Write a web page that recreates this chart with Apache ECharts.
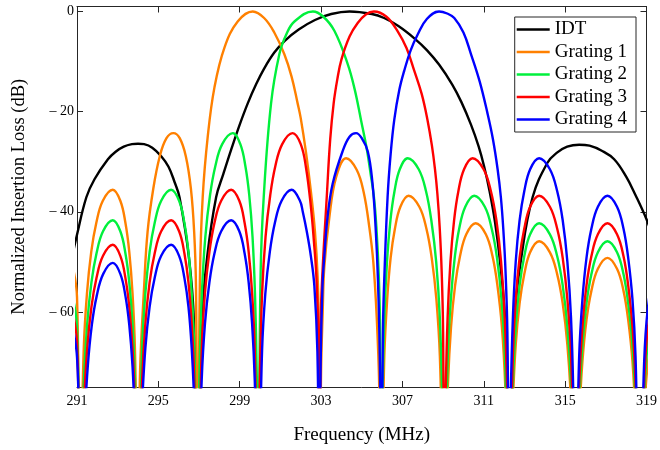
<!DOCTYPE html>
<html>
<head>
<meta charset="utf-8">
<script src="https://cdn.jsdelivr.net/npm/echarts@6/dist/echarts.min.js"></script>
<style>
html,body{margin:0;padding:0;background:#fff;}
#chart{width:660px;height:450px;}
</style>
</head>
<body>
<div id="chart"></div>
<script>
// Tick values
const freqTicks = [291, 295, 299, 303, 307, 311, 315, 319];
const lossTicks = [0, -20, -40, -60];

// Series names and colours
const seriesNames = ['IDT', 'Grating 1', 'Grating 2', 'Grating 3', 'Grating 4'];
const seriesColors = ['#000000', '#ff8000', '#00f03c', '#ff0000', '#0000ff'];

// [frequency MHz, normalized insertion loss dB]
const idt = [[290.6,-52],[291.0,-44.6],[291.46,-37.1],[291.86,-33.5],[292.52,-29.5],[292.9,-28.0],[293.3,-27.0],[293.7,-26.5],[294.0,-26.4],[294.3,-26.5],[294.7,-27.2],[295.14,-28.9],[295.5,-31.0],[295.8,-34.1],[296.04,-37.1],[296.5,-49],[296.75,-62],[296.94,-100],[297.15,-61],[297.4,-49],[297.84,-37.1],[298.2,-32.4],[298.58,-27.6],[299.0,-22.6],[299.4,-18.3],[299.8,-14.6],[300.2,-11.4],[300.7,-8.2],[301.2,-5.9],[301.9,-3.6],[302.7,-1.7],[303.5,-0.5],[304.4,0],[305.5,-0.5],[306.1,-1.3],[306.8,-2.9],[307.6,-5.4],[308.2,-7.7],[308.8,-10.6],[309.45,-14.6],[309.9,-18.1],[310.37,-22.6],[310.75,-27.0],[311.02,-31.0],[311.27,-35.6],[311.55,-42],[311.8,-50],[312.05,-62],[312.3,-100],[312.5,-62],[312.85,-49],[313.4,-37.1],[314.13,-30.2],[314.6,-28.2],[315.1,-27.0],[315.69,-26.6],[316.2,-26.8],[316.8,-27.8],[317.41,-29.5],[318.0,-33],[318.45,-36.6],[319.0,-41.5],[319.4,-46]];

const grating1 = [[290.6,-48],[291.0,-57],[291.13,-100],
[291.33,-67.6],[291.49,-56.3],[291.70,-48.0],[291.95,-42.2],[292.27,-37.8],[292.76,-35.6],[293.13,-37.8],[293.38,-42.2],[293.57,-48.0],[293.73,-56.3],[293.85,-67.6],[294.0,-100],
[294.1,-72],[294.3,-55],[294.47,-44],[294.75,-35.4],[295.07,-28.9],[295.4,-25.3],[295.74,-24.3],[296.05,-25.3],[296.35,-28.9],[296.6,-35.4],[296.76,-44],[296.85,-55],[296.93,-100],
[297.05,-52],[297.18,-37.1],[297.43,-24.9],[297.76,-15.1],[298.25,-7.2],[298.9,-2.0],[299.64,0],[300.2,-1.3],[300.7,-4.2],[301.19,-8.5],[301.55,-13],[301.85,-18.4],[302.0,-21.3],[302.26,-28.2],[302.5,-36],[302.7,-44],[302.83,-53],[302.88,-62],[302.93,-100],
[303.0,-72],[303.08,-60],[303.16,-51],[303.41,-41],[303.74,-33.1],[304.23,-29.3],[304.75,-31.6],[305.09,-36],[305.37,-43],[305.57,-50.1],[305.74,-61.4],[305.86,-75],[305.95,-100],
[306.11,-68.8],[306.25,-57.5],[306.42,-49.2],[306.63,-43.4],[306.9,-39.0],[307.3,-36.8],[307.83,-39.0],[308.18,-43.4],[308.44,-49.2],[308.67,-57.5],[308.84,-68.8],[309.05,-100],
[309.24,-74.3],[309.39,-63.0],[309.59,-54.7],[309.83,-48.9],[310.14,-44.5],[310.6,-42.3],[311.1,-44.5],[311.43,-48.9],[311.67,-54.7],[311.89,-63.0],[312.05,-74.3],[312.25,-100],
[312.43,-77.9],[312.57,-66.6],[312.76,-58.3],[312.99,-52.5],[313.28,-48.1],[313.72,-45.9],[314.25,-48.1],[314.61,-52.5],[314.88,-58.3],[315.11,-66.6],[315.29,-77.9],[315.5,-100],
[315.69,-81.2],[315.85,-69.9],[316.05,-61.6],[316.29,-55.8],[316.61,-51.4],[317.08,-49.2],[317.55,-51.4],[317.87,-55.8],[318.1,-61.6],[318.31,-69.9],[318.46,-81.2],[318.65,-100],
[318.82,-88],[319.0,-73],[319.4,-61]];

const grating2 = [[290.6,-54],[291.0,-63],[291.15,-100],
[291.34,-73.7],[291.50,-62.4],[291.71,-54.1],[291.96,-48.3],[292.28,-43.9],[292.76,-41.7],[293.13,-43.9],[293.38,-48.3],[293.57,-54.1],[293.73,-62.4],[293.85,-73.7],[294.0,-100],
[294.20,-67.6],[294.36,-56.3],[294.57,-48.0],[294.82,-42.2],[295.14,-37.8],[295.63,-35.6],[296.02,-37.8],[296.28,-42.2],[296.48,-48.0],[296.64,-56.3],[296.77,-67.6],[296.93,-100],
[297.02,-72.9],[297.14,-56.3],[297.31,-45.0],[297.54,-36.7],[297.80,-30.9],[298.14,-26.5],[298.66,-24.3],[299.03,-26.5],[299.28,-30.9],[299.47,-36.7],[299.63,-45.0],[299.75,-56.3],[299.84,-72.9],[299.9,-100],
[300.03,-52],[300.18,-37.1],[300.54,-18.4],[300.95,-8.5],[301.3,-4.5],[301.69,-2.0],[302.6,0],[303.1,-1.0],[303.66,-3.9],[304.31,-10.5],[304.65,-15.5],[304.96,-21.6],[305.25,-27.5],[305.45,-32.8],[305.6,-37.1],[305.72,-43],[305.84,-53],[305.91,-65],[305.95,-100],
[306.02,-77.9],[306.11,-61.3],[306.24,-50.0],[306.41,-41.7],[306.61,-35.9],[306.87,-31.5],[307.26,-29.3],[307.80,-31.5],[308.16,-35.9],[308.42,-41.7],[308.66,-50.0],[308.84,-61.3],[308.96,-77.9],[309.05,-100],
[309.23,-68.8],[309.38,-57.5],[309.57,-49.2],[309.79,-43.4],[310.09,-39.0],[310.53,-36.8],[311.05,-39.0],[311.39,-43.4],[311.65,-49.2],[311.87,-57.5],[312.04,-68.8],[312.25,-100],
[312.43,-74.3],[312.57,-63.0],[312.76,-54.7],[312.99,-48.9],[313.28,-44.5],[313.72,-42.3],[314.25,-44.5],[314.61,-48.9],[314.88,-54.7],[315.11,-63.0],[315.29,-74.3],[315.5,-100],
[315.69,-77.9],[315.85,-66.6],[316.05,-58.3],[316.29,-52.5],[316.61,-48.1],[317.08,-45.9],[317.55,-48.1],[317.87,-52.5],[318.1,-58.3],[318.31,-66.6],[318.46,-77.9],[318.65,-100],
[318.82,-85],[319.0,-69],[319.4,-57]];

const grating3 = [[290.6,-57],[291.0,-66],[291.15,-100],
[291.34,-78.6],[291.50,-67.3],[291.71,-59.0],[291.96,-53.2],[292.28,-48.8],[292.76,-46.6],[293.13,-48.8],[293.38,-53.2],[293.57,-59.0],[293.73,-67.3],[293.85,-78.6],[294.0,-100],
[294.20,-73.7],[294.36,-62.4],[294.57,-54.1],[294.82,-48.3],[295.14,-43.9],[295.63,-41.7],[296.02,-43.9],[296.28,-48.3],[296.48,-54.1],[296.64,-62.4],[296.77,-73.7],[296.93,-100],
[297.13,-67.6],[297.29,-56.3],[297.51,-48.0],[297.76,-42.2],[298.09,-37.8],[298.58,-35.6],[298.98,-37.8],[299.24,-42.2],[299.44,-48.0],[299.61,-56.3],[299.74,-67.6],[299.9,-100],
[299.99,-72.9],[300.10,-56.3],[300.27,-45.0],[300.50,-36.7],[300.75,-30.9],[301.09,-26.5],[301.6,-24.3],[302.0,-26.5],[302.26,-31.2],[302.5,-39],[302.65,-46],[302.77,-53],[302.87,-66],[302.93,-100],
[302.98,-62],[303.07,-52],[303.28,-37],[303.45,-25.5],[303.62,-18.3],[303.8,-13.5],[304.0,-9.6],[304.4,-5],[304.8,-2.3],[305.2,-0.6],[305.6,0],[306.2,-1.0],[306.76,-3.9],[307.2,-7.3],[307.58,-11.8],[307.95,-16.5],[308.23,-21.6],[308.45,-26.8],[308.6,-31.5],[308.72,-36.5],[308.83,-43],[308.93,-52],[309.0,-64],[309.05,-100],
[309.12,-77.9],[309.22,-61.3],[309.36,-50.0],[309.54,-41.7],[309.75,-35.9],[310.03,-31.5],[310.45,-29.3],[310.99,-31.5],[311.35,-35.9],[311.62,-41.7],[311.85,-50.0],[312.03,-61.3],[312.16,-77.9],[312.25,-100],
[312.43,-68.8],[312.57,-57.5],[312.76,-49.2],[312.99,-43.4],[313.28,-39.0],[313.72,-36.8],[314.25,-39.0],[314.61,-43.4],[314.88,-49.2],[315.11,-57.5],[315.29,-68.8],[315.5,-100],
[315.69,-74.3],[315.85,-63.0],[316.05,-54.7],[316.29,-48.9],[316.61,-44.5],[317.08,-42.3],[317.55,-44.5],[317.87,-48.9],[318.1,-54.7],[318.31,-63.0],[318.46,-74.3],[318.65,-100],
[318.82,-82],[319.0,-66],[319.4,-54]];

const grating4 = [[290.6,-60],[291.0,-69],[291.18,-100],
[291.37,-82.2],[291.53,-70.9],[291.73,-62.6],[291.97,-56.8],[292.29,-52.4],[292.76,-50.2],[293.13,-52.4],[293.38,-56.8],[293.57,-62.6],[293.73,-70.9],[293.85,-82.2],[294.0,-100],
[294.20,-78.6],[294.36,-67.3],[294.57,-59.0],[294.82,-53.2],[295.14,-48.8],[295.63,-46.6],[296.02,-48.8],[296.28,-53.2],[296.48,-59.0],[296.64,-67.3],[296.77,-78.6],[296.93,-100],
[297.13,-73.7],[297.29,-62.4],[297.51,-54.1],[297.76,-48.3],[298.09,-43.9],[298.58,-41.7],[298.98,-43.9],[299.24,-48.3],[299.44,-54.1],[299.61,-62.4],[299.74,-73.7],[299.9,-100],
[300.10,-67.6],[300.26,-56.3],[300.48,-48.0],[300.73,-42.2],[301.06,-37.8],[301.55,-35.6],[301.96,-37.8],[302.1,-40],[302.3,-44],[302.5,-48.9],[302.67,-54.8],[302.82,-68],[302.93,-100],
[302.98,-70],[303.07,-54.8],[303.16,-48.9],[303.32,-41],[303.57,-34.4],[304.06,-27.9],[304.4,-25],[304.72,-24.3],[305.0,-25.3],[305.3,-28],[305.52,-34],[305.68,-43],[305.8,-54],[305.89,-70],[305.95,-100],
[306.05,-62],[306.12,-52],[306.27,-37.1],[306.42,-28.5],[306.6,-21.6],[306.85,-15.6],[307.09,-11.8],[307.4,-7.8],[307.75,-4.6],[308.2,-1.5],[308.8,0],[309.2,-0.4],[309.55,-1.3],[310.0,-4.2],[310.37,-8.5],[310.8,-14],[311.18,-20.3],[311.45,-25.5],[311.68,-31.5],[311.84,-37.1],[311.96,-43.5],[312.07,-52],[312.16,-64],[312.25,-100],
[312.32,-77.9],[312.43,-61.3],[312.57,-50.0],[312.76,-41.7],[312.99,-35.9],[313.28,-31.5],[313.72,-29.3],[314.25,-31.5],[314.61,-35.9],[314.88,-41.7],[315.11,-50.0],[315.29,-61.3],[315.41,-77.9],[315.5,-100],
[315.69,-68.8],[315.85,-57.5],[316.05,-49.2],[316.29,-43.4],[316.61,-39.0],[317.08,-36.8],[317.55,-39.0],[317.87,-43.4],[318.1,-49.2],[318.31,-57.5],[318.46,-68.8],[318.65,-100],
[318.82,-78],[319.0,-62],[319.4,-50]];

const seriesData = [idt, grating1, grating2, grating3, grating4];

const FONT = 'Liberation Serif, Times New Roman, serif';
const AX = '#262626';

function mkX(pos, labels) {
  return {
    type: 'value', min: 291, max: 319, position: pos,
    name: labels ? 'Frequency (MHz)' : '',
    nameLocation: 'middle', nameGap: 39,
    nameTextStyle: { fontFamily: FONT, fontSize: 19, color: '#000' },
    axisLine: { show: true, onZero: false, lineStyle: { color: AX, width: 1 } },
    axisTick: { show: true, inside: true, length: 6, customValues: freqTicks, lineStyle: { color: AX, width: 1 } },
    axisLabel: { show: labels, customValues: freqTicks, margin: 7, fontFamily: FONT, fontSize: 14, color: '#000' },
    splitLine: { show: false }
  };
}
function mkY(pos, labels) {
  return {
    type: 'value', min: -75, max: 1, position: pos,
    name: labels ? 'Normalized Insertion Loss (dB)' : '',
    nameLocation: 'middle', nameGap: 48, nameRotate: 90,
    nameTextStyle: { fontFamily: FONT, fontSize: 18.5, color: '#000' },
    axisLine: { show: true, onZero: false, lineStyle: { color: AX, width: 1 } },
    axisTick: { show: true, inside: true, length: 6, customValues: lossTicks, lineStyle: { color: AX, width: 1 } },
    axisLabel: { show: labels, customValues: lossTicks, margin: 3, fontFamily: FONT, fontSize: 14, color: '#000',
      formatter: v => (v === 0 ? '0' : '\u2013 ' + Math.abs(v)) },
    splitLine: { show: false }
  };
}

const chart = echarts.init(document.getElementById('chart'), null, { renderer: 'canvas' });
chart.setOption({
  animation: false,
  backgroundColor: '#fff',
  grid: { left: 77, right: 13, top: 6.5, bottom: 59 },
  xAxis: [mkX('bottom', true), mkX('top', false)],
  yAxis: [mkY('left', true), mkY('right', false)],
  legend: {
    orient: 'vertical', right: 24, top: 17,
    padding: [3, 9, 3, 2], itemWidth: 33, itemHeight: 2.5, itemGap: 3.5,
    icon: 'rect',
    borderColor: AX, borderWidth: 1, backgroundColor: '#fff',
    textStyle: { fontFamily: FONT, fontSize: 19, color: '#000' },
    data: seriesNames
  },
  series: seriesNames.map((n, i) => ({
    type: 'line', name: n, data: seriesData[i],
    xAxisIndex: 0, yAxisIndex: 0,
    symbol: 'none', showSymbol: false, smooth: 0.4, clip: true,
    lineStyle: { width: 2.4, color: seriesColors[i] },
    itemStyle: { color: seriesColors[i] },
    emphasis: { disabled: true }
  }))
});
</script>
</body>
</html>
